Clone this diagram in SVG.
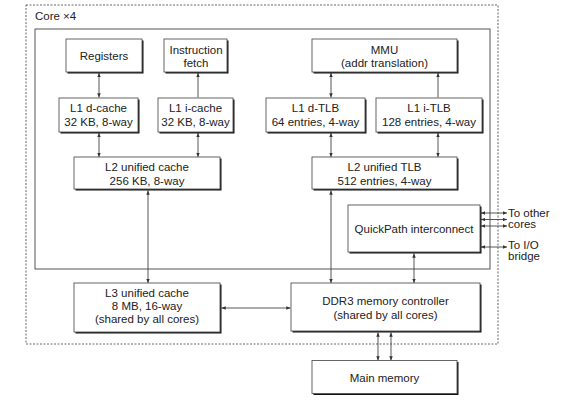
<svg xmlns="http://www.w3.org/2000/svg" width="567" height="408" viewBox="0 0 567 408">
<style>
.box rect.s{fill:#111;}
.box rect.b{fill:#fff;stroke:#555;stroke-width:0.9;}
text{font-family:"Liberation Sans",Arial,sans-serif;font-size:11.5px;fill:#222;}
.c text{text-anchor:middle;}
.conn line{stroke:#444;stroke-width:0.9;}
.both{marker-start:url(#ah);marker-end:url(#ah);}
.end{marker-end:url(#ah);}
</style>
<defs>
<marker id="ah" viewBox="0 0 6 5" refX="6" refY="2.5" markerWidth="4.5" markerHeight="3.5" markerUnits="userSpaceOnUse" orient="auto-start-reverse">
<path d="M0,0 L6,2.5 L0,5 z" fill="#333"/>
</marker>
</defs>
<rect width="567" height="408" fill="#fff"/>
<g id="core-frame">
<rect x="26" y="5" width="472" height="339" fill="none" stroke="#555" stroke-width="0.9" stroke-dasharray="2,1.5"/>
<text x="35" y="20">Core ×4</text>
<rect x="35" y="29" width="455" height="240" fill="none" stroke="#555" stroke-width="1"/>
</g>
<g class="conn" id="connectors">
<line class="both" x1="99" y1="73" x2="99" y2="97.5"/>
<line class="end" x1="198" y1="97.5" x2="198" y2="73"/>
<line class="both" x1="99" y1="133" x2="99" y2="157"/>
<line class="both" x1="198" y1="133" x2="198" y2="157"/>
<line class="both" x1="148" y1="190.5" x2="148" y2="283"/>
<line class="both" x1="331" y1="73" x2="331" y2="97.5"/>
<line class="end" x1="438" y1="97.5" x2="438" y2="73"/>
<line class="both" x1="331" y1="133" x2="331" y2="157"/>
<line class="both" x1="438" y1="133" x2="438" y2="157"/>
<line class="both" x1="331" y1="190.5" x2="331" y2="283"/>
<line class="both" x1="414" y1="253.5" x2="414" y2="283"/>
<line class="both" x1="221.5" y1="308" x2="290.5" y2="308"/>
<line class="both" x1="378" y1="332.5" x2="378" y2="360.5"/>
<line class="both" x1="391" y1="332.5" x2="391" y2="360.5"/>
<line class="both" x1="481" y1="213" x2="507" y2="213"/>
<line class="both" x1="481" y1="219.5" x2="507" y2="219.5"/>
<line class="both" x1="481" y1="226" x2="507" y2="226"/>
<line class="both" x1="481" y1="247" x2="507" y2="247"/>
</g>
<g id="labels-right">
<text x="508" y="217">To other</text>
<text x="508" y="228">cores</text>
<text x="508" y="249">To I/O</text>
<text x="508" y="260">bridge</text>
</g>
<g id="registers" class="box c">
<rect class="s" x="67.5" y="40.5" width="76" height="33"/>
<rect class="b" x="66" y="39" width="76" height="33"/>
<text x="104" y="60">Registers</text>
</g>
<g id="ifetch" class="box c">
<rect class="s" x="165.5" y="40.5" width="63" height="33"/>
<rect class="b" x="164" y="39" width="63" height="33"/>
<text x="196" y="53.5">Instruction</text>
<text x="196" y="67">fetch</text>
</g>
<g id="l1d" class="box c">
<rect class="s" x="60.5" y="99.5" width="79" height="34"/>
<rect class="b" x="59" y="98" width="79" height="34"/>
<text x="98.5" y="112">L1 d-cache</text>
<text x="98.5" y="125.5">32 KB, 8-way</text>
</g>
<g id="l1i" class="box c">
<rect class="s" x="159.5" y="99.5" width="75" height="34"/>
<rect class="b" x="158" y="98" width="75" height="34"/>
<text x="195.5" y="112">L1 i-cache</text>
<text x="195.5" y="125.5">32 KB, 8-way</text>
</g>
<g id="l2" class="box c">
<rect class="s" x="75.5" y="158.5" width="146" height="32"/>
<rect class="b" x="74" y="157" width="146" height="32"/>
<text x="147" y="171">L2 unified cache</text>
<text x="147" y="184.5">256 KB, 8-way</text>
</g>
<g id="mmu" class="box c">
<rect class="s" x="313.5" y="40.5" width="145" height="33"/>
<rect class="b" x="312" y="39" width="145" height="33"/>
<text x="384.5" y="53.5">MMU</text>
<text x="384.5" y="67">(addr translation)</text>
</g>
<g id="l1dtlb" class="box c">
<rect class="s" x="267.5" y="99.5" width="99" height="34"/>
<rect class="b" x="266" y="98" width="99" height="34"/>
<text x="315.5" y="112">L1 d-TLB</text>
<text x="315.5" y="125.5">64 entries, 4-way</text>
</g>
<g id="l1itlb" class="box c">
<rect class="s" x="377.5" y="99.5" width="106" height="34"/>
<rect class="b" x="376" y="98" width="106" height="34"/>
<text x="429" y="112">L1 i-TLB</text>
<text x="429" y="125.5">128 entries, 4-way</text>
</g>
<g id="l2tlb" class="box c">
<rect class="s" x="313.5" y="158.5" width="145" height="32"/>
<rect class="b" x="312" y="157" width="145" height="32"/>
<text x="384.5" y="171">L2 unified TLB</text>
<text x="384.5" y="184.5">512 entries, 4-way</text>
</g>
<g id="qpi" class="box c">
<rect class="s" x="349.5" y="206.5" width="132" height="47"/>
<rect class="b" x="348" y="205" width="132" height="47"/>
<text x="414" y="233">QuickPath interconnect</text>
</g>
<g id="l3" class="box c">
<rect class="s" x="75.5" y="284.5" width="146" height="49"/>
<rect class="b" x="74" y="283" width="146" height="49"/>
<text x="147" y="297">L3 unified cache</text>
<text x="147" y="310">8 MB, 16-way</text>
<text x="147" y="323">(shared by all cores)</text>
</g>
<g id="ddr3" class="box c">
<rect class="s" x="292.5" y="284.5" width="189" height="48"/>
<rect class="b" x="291" y="283" width="189" height="48"/>
<text x="385.5" y="305">DDR3 memory controller</text>
<text x="385.5" y="319">(shared by all cores)</text>
</g>
<g id="main-memory" class="box c">
<rect class="s" x="313.5" y="362" width="145" height="33"/>
<rect class="b" x="312" y="360.5" width="145" height="33"/>
<text x="384.5" y="382">Main memory</text>
</g>
</svg>
